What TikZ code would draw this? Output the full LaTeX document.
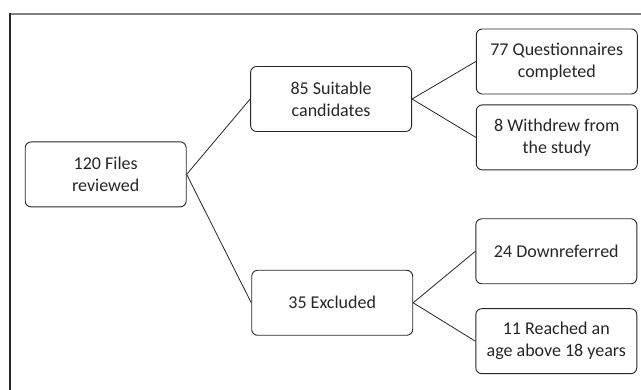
\documentclass[tikz,border=0pt]{standalone}
\usepackage{fontspec}
\setmainfont{Carlito}
\usepackage{tikz}
\usetikzlibrary{positioning}

\begin{document}
\begin{tikzpicture}[x=1pt, y=1pt,
    box/.style={draw=black!85, line width=0.9pt, rounded corners=6pt, align=center,
        minimum width=161pt, minimum height=65pt, text=black!85,
        font=\fontsize{18}{22}\selectfont},
    link/.style={draw=black!85, line width=0.8pt}]
    \useasboundingbox (0,0) rectangle (641,390);
    % frame
    \draw[black!50, line width=1.3pt] (10,376) -- (641,376);
    \draw[black!85, line width=1.3pt] (10,376.6) -- (10,0);
    % boxes
    \node[box] (files) at (105.7,215.6) {120 Files\\reviewed};
    \node[box] (suit) at (331.1,291) {85 Suitable\\candidates};
    \node[box] (excl) at (332.2,87.2) {35 Excluded};
    \node[box] (quest) at (556.8,328.5) {77 Questionnaires\\completed};
    \node[box] (withd) [below=10pt of quest] {8 Withdrew from\\the study};
    \node[box] (down) at (556.3,138.7) {24 Downreferred};
    \node[box] (reach) [below=24pt of down] {11 Reached an\\age above 18 years};
    % links
    \draw[link] (files.east) -- (suit.west);
    \draw[link] (files.east) -- (excl.west);
    \draw[link] (suit.east) -- (quest.west);
    \draw[link] (suit.east) -- (withd.west);
    \draw[link] (excl.east) -- (down.west);
    \draw[link] (excl.east) -- (reach.west);
\end{tikzpicture}
\end{document}
